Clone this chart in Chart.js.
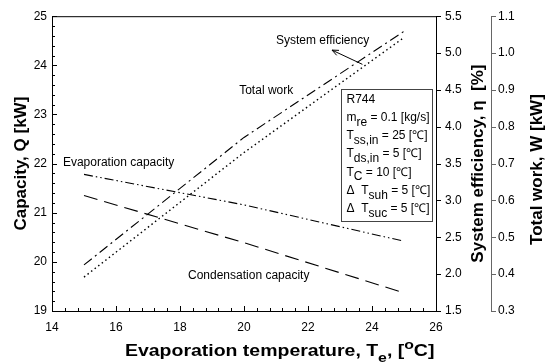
<!DOCTYPE html>
<html>
<head>
<meta charset="utf-8">
<script src="https://cdn.jsdelivr.net/npm/chart.js@4"></script>
<style>
  html, body { margin: 0; padding: 0; background: #fff; }
</style>
</head>
<body>
<canvas id="chart" width="558" height="362"></canvas>
<script>
// data
const temps = [15, 20, 25];
const evapCapacity = [21.78, 21.16, 20.42];   // kW, left axis
const condCapacity = [21.35, 20.39, 19.37];   // kW, left axis
const totalWork = [0.425, 0.771, 1.059];      // kW, far right axis
const sysEfficiency = [1.96, 3.65, 5.21];     // %, right axis

const xTickValues = [14, 16, 18, 20, 22, 24, 26];
const capTicks = [19, 20, 21, 22, 23, 24, 25];
const etaTicks = [1.5, 2.0, 2.5, 3.0, 3.5, 4.0, 4.5, 5.0, 5.5];
const workTicks = [0.3, 0.4, 0.5, 0.6, 0.7, 0.8, 0.9, 1.0, 1.1];

const FAM = "'Liberation Sans', Arial, sans-serif";
const tickFont = { family: FAM, size: 12 };

function toPoints(ys) {
    return temps.map((t, i) => ({ x: t, y: ys[i] }));
}

// measures pieces of rich text, returns total width
function measureRich(ctx, parts, size, bold, subSize) {
    const w = bold ? 'bold ' : '';
    const small = subSize || Math.round(size * 0.8);
    let total = 0;
    parts.forEach(p => {
        p.font = w + ((p.sub || p.sup) ? small : size) + 'px ' + FAM;
        ctx.font = p.font;
        p.w = ctx.measureText(p.t).width;
        total += p.w;
    });
    return total;
}

// draws text made of pieces, some of them sub/superscript
function drawRich(ctx, parts, x, y, align, size, bold, subSize) {
    const total = measureRich(ctx, parts, size, bold, subSize);
    let cx = align === 'center' ? x - total / 2 : x;
    ctx.textAlign = 'left';
    ctx.textBaseline = 'middle';
    parts.forEach(p => {
        ctx.font = p.font;
        const dy = p.sub ? size * 0.4 : (p.sup ? -size * 0.4 : 0);
        ctx.fillText(p.t, cx, y + dy);
        cx += p.w;
    });
}

// curve labels, placed in (temperature, capacity) units
const curveLabels = [
    { text: 'System efficiency', x: 21.0, y: 24.5 },
    { text: 'Total work', x: 19.85, y: 23.48 },
    { text: 'Evaporation capacity', x: 14.34, y: 22.01 },
    { text: 'Condensation capacity', x: 18.25, y: 19.71 }
];
const arrowFrom = { x: 23.7, y: 24.02 };
const arrowTo = { x: 22.75, y: 24.31 };
const boxCorner = { x: 23.03, y: 23.52 };

const boxLines = [
    [{ t: 'R744' }],
    [{ t: 'm' }, { t: 're', sub: true }, { t: ' = 0.1 [kg/s]' }],
    [{ t: 'T' }, { t: 'ss,in', sub: true }, { t: ' = 25 [\u2103]' }],
    [{ t: 'T' }, { t: 'ds,in', sub: true }, { t: ' = 5 [\u2103]' }],
    [{ t: 'T' }, { t: 'C', sub: true }, { t: ' = 10 [\u2103]' }],
    [{ t: '\u0394  T' }, { t: 'suh', sub: true }, { t: ' = 5 [\u2103]' }],
    [{ t: '\u0394  T' }, { t: 'suc', sub: true }, { t: ' = 5 [\u2103]' }]
];

const decorations = {
    id: 'decorations',
    afterDraw(chart) {
        const ctx = chart.ctx;
        const area = chart.chartArea;
        const xs = chart.scales.x, ys = chart.scales.y;
        const eta = chart.scales.yEta, wk = chart.scales.yW;
        ctx.save();
        ctx.strokeStyle = '#000';
        ctx.lineWidth = 1;

        // top frame line
        ctx.beginPath();
        ctx.moveTo(area.left, area.top + 0.5);
        ctx.lineTo(area.right, area.top + 0.5);
        ctx.stroke();

        // inward ticks on left axis (minor every 0.2)
        ctx.beginPath();
        for (let i = 0; i <= 30; i++) {
            const py = Math.round(ys.getPixelForValue(19 + i * 0.2)) + 0.5;
            const len = i % 5 === 0 ? 5 : 3;
            ctx.moveTo(area.left, py);
            ctx.lineTo(area.left + len, py);
        }
        // inward ticks on x axis (minor every 0.4)
        for (let i = 0; i <= 30; i++) {
            const px = Math.round(xs.getPixelForValue(14 + i * 0.4)) + 0.5;
            const len = i % 5 === 0 ? 5 : 3;
            ctx.moveTo(px, area.bottom);
            ctx.lineTo(px, area.bottom - len);
        }
        // outward ticks on efficiency axis
        etaTicks.forEach(v => {
            const py = Math.round(eta.getPixelForValue(v)) + 0.5;
            ctx.moveTo(area.right, py);
            ctx.lineTo(area.right + 5, py);
        });
        ctx.stroke();

        // work axis ticks (grey)
        ctx.strokeStyle = '#666';
        ctx.beginPath();
        workTicks.forEach(v => {
            const py = Math.round(wk.getPixelForValue(v)) + 0.5;
            ctx.moveTo(wk.left, py);
            ctx.lineTo(wk.left + 5, py);
        });
        ctx.stroke();

        // curve labels
        ctx.fillStyle = '#000';
        ctx.font = '12px ' + FAM;
        ctx.textAlign = 'left';
        ctx.textBaseline = 'middle';
        curveLabels.forEach(l => {
            ctx.fillText(l.text, xs.getPixelForValue(l.x), ys.getPixelForValue(l.y));
        });

        // arrow to the efficiency curve
        const ax0 = xs.getPixelForValue(arrowFrom.x), ay0 = ys.getPixelForValue(arrowFrom.y);
        const ax1 = xs.getPixelForValue(arrowTo.x), ay1 = ys.getPixelForValue(arrowTo.y);
        ctx.strokeStyle = '#000';
        ctx.beginPath();
        ctx.moveTo(ax0, ay0);
        ctx.lineTo(ax1, ay1);
        const ang = Math.atan2(ay1 - ay0, ax1 - ax0);
        ctx.moveTo(ax1 - 7 * Math.cos(ang - 0.4), ay1 - 7 * Math.sin(ang - 0.4));
        ctx.lineTo(ax1, ay1);
        ctx.lineTo(ax1 - 7 * Math.cos(ang + 0.4), ay1 - 7 * Math.sin(ang + 0.4));
        ctx.stroke();

        // condition box
        const bx = Math.round(xs.getPixelForValue(boxCorner.x)) + 0.5;
        const by = Math.round(ys.getPixelForValue(boxCorner.y)) + 0.5;
        const bw = 91, bh = 132;
        ctx.fillStyle = '#fff';
        ctx.fillRect(bx, by, bw, bh);
        ctx.strokeStyle = '#444';
        ctx.strokeRect(bx, by, bw, bh);
        ctx.fillStyle = '#000';
        boxLines.forEach((parts, i) => {
            drawRich(ctx, parts, bx + 5, by + 10 + i * 18.2, 'left', 12, false, 12);
        });

        // axis titles
        const midY = (area.top + area.bottom) / 2;
        // the x title in the figure is set wide: stretch it across 14.3..26
        const xTitle = [
            { t: 'Evaporation temperature, T' }, { t: 'e', sub: true },
            { t: ', [' }, { t: 'o', sup: true }, { t: 'C]' }
        ];
        const natural = measureRich(ctx, xTitle, 16, true);
        const target = xs.getPixelForValue(25.95) - xs.getPixelForValue(16.28);
        ctx.save();
        ctx.translate(xs.getPixelForValue(16.28), 352);
        ctx.scale(target / natural, 1);
        drawRich(ctx, xTitle, 0, 0, 'left', 16, true);
        ctx.restore();

        ctx.save();
        ctx.translate(21, midY);
        ctx.rotate(-Math.PI / 2);
        drawRich(ctx, [{ t: 'Capacity, Q [kW]' }], 0, 0, 'center', 17, true);
        ctx.restore();

        ctx.save();
        ctx.translate(478, midY);
        ctx.rotate(-Math.PI / 2);
        drawRich(ctx, [{ t: 'System efficiency, \u03b7  [%]' }], 0, 0, 'center', 17, true);
        ctx.restore();

        ctx.save();
        ctx.translate(537, midY + 6);
        ctx.rotate(-Math.PI / 2);
        drawRich(ctx, [{ t: 'Total work, W [kW]' }], 0, 0, 'center', 17, true);
        ctx.restore();

        ctx.restore();
    }
};

function lineSet(label, ys, axis, dash, width) {
    return {
        label: label,
        data: toPoints(ys),
        yAxisID: axis,
        borderColor: '#000',
        borderWidth: width || 1.1,
        borderDash: dash,
        pointRadius: 0,
        fill: false,
        tension: 0
    };
}

new Chart(document.getElementById('chart').getContext('2d'), {
    type: 'line',
    data: {
        datasets: [
            lineSet('Evaporation capacity', evapCapacity, 'y', [9, 3, 1.5, 3, 1.5, 3]),
            lineSet('Condensation capacity', condCapacity, 'y', [14, 7]),
            lineSet('Total work', totalWork, 'yW', [10, 4, 2, 4]),
            lineSet('System efficiency', sysEfficiency, 'yEta', [1.5, 3], 1.4)
        ]
    },
    options: {
        responsive: false,
        animation: false,
        devicePixelRatio: 1,
        layout: { padding: { top: 16, left: 0, right: 0, bottom: 0 } },
        plugins: { legend: { display: false }, tooltip: { enabled: false } },
        scales: {
            x: {
                type: 'linear', position: 'bottom', min: 14, max: 26,
                afterBuildTicks: s => { s.ticks = xTickValues.map(v => ({ value: v })); },
                ticks: { color: '#000', font: tickFont, padding: 9 },
                grid: { display: false, drawTicks: false },
                border: { color: '#000' },
                afterFit: s => { s.height = 51; }
            },
            y: {
                position: 'left', min: 19, max: 25,
                afterBuildTicks: s => { s.ticks = capTicks.map(v => ({ value: v })); },
                ticks: { color: '#000', font: tickFont, padding: 5 },
                grid: { display: false, drawTicks: false },
                border: { color: '#000' },
                afterFit: s => { s.width = 52; }
            },
            yEta: {
                position: 'right', min: 1.5, max: 5.5, weight: 0,
                afterBuildTicks: s => { s.ticks = etaTicks.map(v => ({ value: v })); },
                ticks: { color: '#000', font: tickFont, padding: 9, callback: v => v.toFixed(1) },
                grid: { display: false, drawTicks: false },
                border: { color: '#000' },
                afterFit: s => { s.width = 55; }
            },
            yW: {
                position: 'right', min: 0.3, max: 1.1, weight: 1,
                afterBuildTicks: s => { s.ticks = workTicks.map(v => ({ value: v })); },
                ticks: { color: '#000', font: tickFont, padding: 7, callback: v => v.toFixed(1) },
                grid: { display: false, drawTicks: false },
                border: { color: '#666' },
                afterFit: s => { s.width = 67; }
            }
        }
    },
    plugins: [decorations]
});
</script>
</body>
</html>
